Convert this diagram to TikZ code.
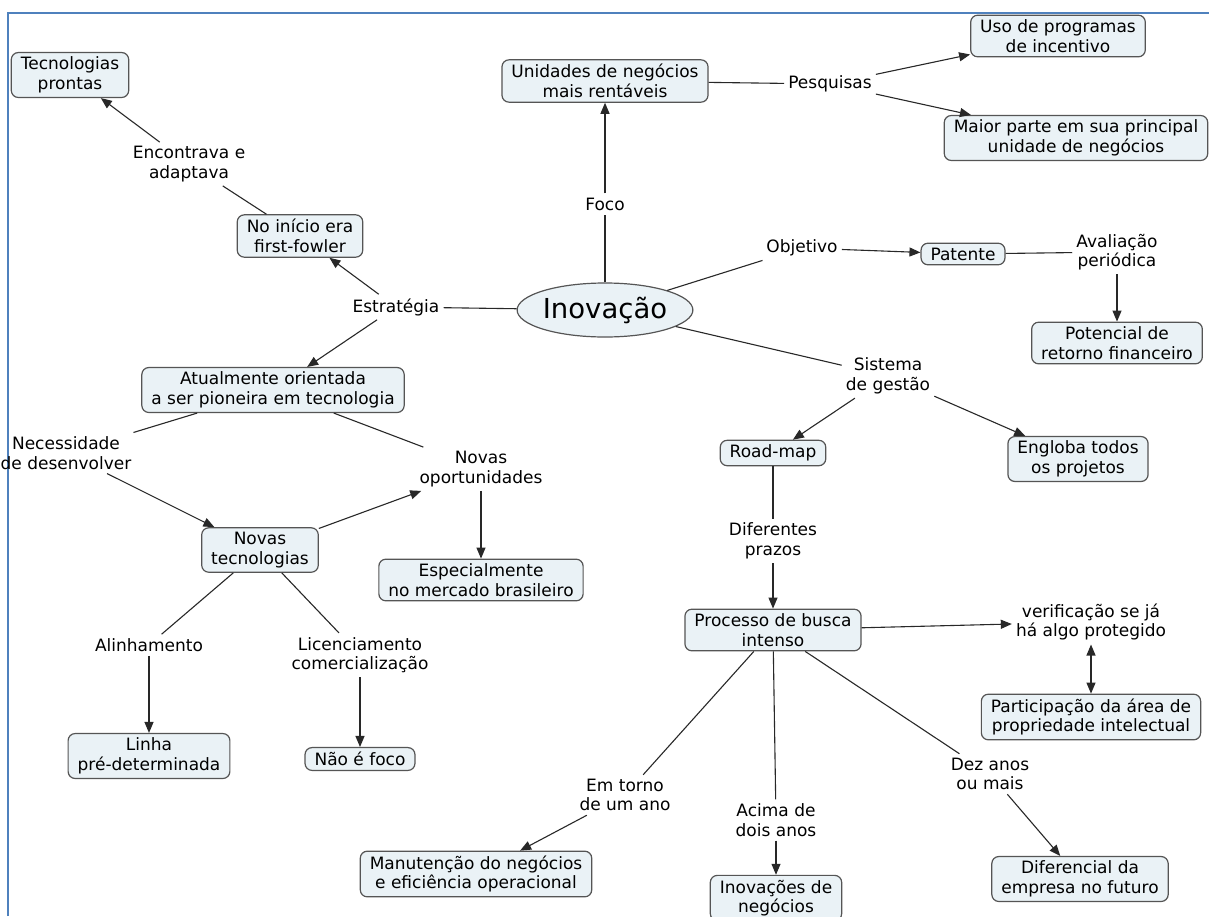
\documentclass[tikz,border=0pt]{standalone}
\usepackage{fontspec}
\setmainfont{DejaVu Sans}
\usetikzlibrary{arrows.meta,shapes.geometric}
\definecolor{frameblue}{RGB}{79,129,189}
\definecolor{boxfill}{RGB}{234,242,246}
\definecolor{boxline}{RGB}{85,85,85}
\definecolor{linkline}{RGB}{40,40,40}

\begin{document}
\begin{tikzpicture}[x=1pt,y=-1pt,
  every node/.style={font=\fontsize{17}{19.5}\selectfont, text=black},
  concept/.style={draw=boxline, fill=boxfill, line width=1.2pt, rounded corners=7pt,
                  align=center, inner xsep=9.5pt, inner ysep=4.5pt},
  phrase/.style={align=center, inner sep=4pt},
  conn/.style={draw=linkline, line width=1.1pt},
  arr/.style={conn, -{Triangle[length=11pt,width=9pt]}},
  darr/.style={conn, {Triangle[length=11pt,width=9pt]}-{Triangle[length=11pt,width=9pt]}}
]
\useasboundingbox (0,0) rectangle (1209,916);
\fill[white] (0,0) rectangle (1209,916);
\draw[frameblue, line width=2.5pt] (8,916) -- (8,13) -- (1209,13);

% central concept
\node[ellipse, draw=boxline, fill=boxfill, line width=1.2pt, minimum width=150pt,
      minimum height=54pt, inner sep=0pt, font=\fontsize{27.5}{30}\selectfont] (inov) at (605,310) {Inovação};

% concepts
\node[concept] (tp)   at (70,75)    {Tecnologias\\prontas};
\node[concept] (un)   at (605,81)   {Unidades de negócios\\mais rentáveis};
\node[concept] (uso)  at (1058,36)  {Uso de programas\\de incentivo};
\node[concept] (mp)   at (1076,138) {Maior parte em sua principal\\unidade de negócios};
\node[concept] (ni)   at (300,236)  {No início era\\first-fowler};
\node[concept] (pat)  at (963,254)  {Patente};
\node[concept] (pot)  at (1117,343) {Potencial de\\retorno financeiro};
\node[concept] (at)   at (273,390)  {Atualmente orientada\\a ser pioneira em tecnologia};
\node[concept] (rm)   at (773,453)  {Road-map};
\node[concept] (eng)  at (1078,459) {Engloba todos\\os projetos};
\node[concept] (nt)   at (260,550)  {Novas\\tecnologias};
\node[concept] (esp)  at (481,580)  {Especialmente\\no mercado brasileiro};
\node[concept] (pb)   at (773,630)  {Processo de busca\\intenso};
\node[concept] (part) at (1091,717) {Participação da área de\\propriedade intelectual};
\node[concept] (lin)  at (149,756)  {Linha\\pré-determinada};
\node[concept] (nf)   at (360,759)  {Não é foco};
\node[concept] (man)  at (476,874)  {Manutenção do negócios\\e eficiência operacional};
\node[concept] (inn)  at (776,898)  {Inovações de\\negócios};
\node[concept] (dif)  at (1080,879) {Diferencial da\\empresa no futuro};

% linking phrases
\node[phrase] (enc)  at (189,164)  {Encontrava e\\adaptava};
\node[phrase] (foco) at (605,204)  {Foco};
\node[phrase] (pes)  at (830,84)   {Pesquisas};
\node[phrase] (obj)  at (802,248)  {Objetivo};
\node[phrase] (ava)  at (1117,252) {Avaliação\\periódica};
\node[phrase] (est)  at (396,307)  {Estratégia};
\node[phrase] (sis)  at (888,376)  {Sistema\\de gestão};
\node[phrase] (nec)  at (66,453)   {Necessidade\\de desenvolver};
\node[phrase] (nop)  at (481,469)  {Novas\\oportunidades};
\node[phrase] (dp)   at (773,541)  {Diferentes\\prazos};
\node[phrase] (ver)  at (1091,622) {verificação se já\\há algo protegido};
\node[phrase] (ali)  at (149,645)  {Alinhamento};
\node[phrase] (lic)  at (360,655)  {Licenciamento\\comercialização};
\node[phrase] (et)   at (625,795)  {Em torno\\de um ano};
\node[phrase] (ac)   at (776,820)  {Acima de\\dois anos};
\node[phrase] (dez)  at (990,774)  {Dez anos\\ou mais};

% connections
\draw[conn] (inov) -- (est);
\draw[arr]  (est) -- (ni);
\draw[arr]  (est) -- (at);
\draw[conn] (ni) -- (enc);
\draw[arr]  (enc) -- (tp);
\draw[conn] (inov) -- (foco);
\draw[arr]  (foco) -- (un);
\draw[conn] (un) -- (pes);
\draw[arr]  (pes) -- (uso);
\draw[arr]  (pes) -- (mp);
\draw[conn] (inov) -- (obj);
\draw[arr]  (obj) -- (pat);
\draw[conn] (pat) -- (ava);
\draw[arr]  (ava) -- (pot);
\draw[conn] (inov) -- (sis);
\draw[arr]  (sis) -- (rm);
\draw[arr]  (sis) -- (eng);
\draw[conn] (rm) -- (dp);
\draw[arr]  (dp) -- (pb);
\draw[arr]  (pb) -- (ver);
\draw[darr] (ver) -- (part);
\draw[conn] (pb) -- (et);
\draw[arr]  (et) -- (man);
\draw[conn] (pb) -- (ac);
\draw[arr]  (ac) -- (inn);
\draw[conn] (pb) -- (dez);
\draw[arr]  (dez) -- (dif);
\draw[conn] (at) -- (nec);
\draw[arr]  (nec) -- (nt);
\draw[conn] (at) -- (nop);
\draw[arr]  (nt) -- (nop);
\draw[arr]  (nop) -- (esp);
\draw[conn] (nt) -- (ali);
\draw[arr]  (ali) -- (lin);
\draw[conn] (nt) -- (lic);
\draw[arr]  (lic) -- (nf);
\end{tikzpicture}
\end{document}
